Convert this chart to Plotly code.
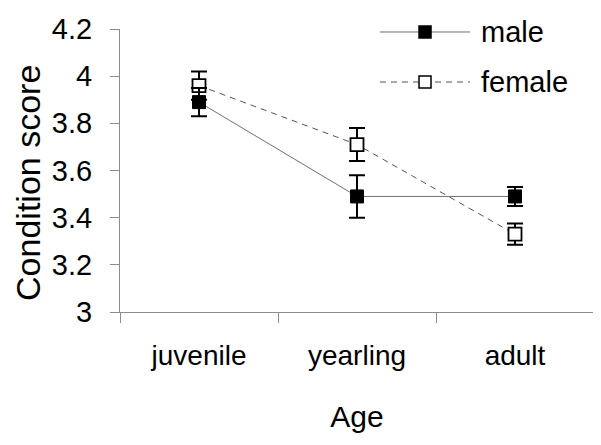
import plotly.graph_objects as go

ages = ["juvenile", "yearling", "adult"]
male_mean = [3.89, 3.49, 3.49]
male_err = [0.06, 0.09, 0.04]
female_mean = [3.96, 3.71, 3.33]
female_err = [0.06, 0.07, 0.045]
y_ticks = [3, 3.2, 3.4, 3.6, 3.8, 4, 4.2]

FONT = "Liberation Sans, Arial, sans-serif"
AXIS_COL = "#8c8c8c"

fig = go.Figure()
fig.add_trace(go.Scatter(
    x=ages, y=female_mean, mode="lines+markers", name="female",
    line=dict(color="#555555", width=1, dash="6px,5px"),
    marker=dict(symbol="square", size=13, color="white", line=dict(color="black", width=1.8)),
    error_y=dict(type="data", array=female_err, color="black", thickness=2, width=8),
    showlegend=False,
))
fig.add_trace(go.Scatter(
    x=ages, y=male_mean, mode="lines+markers", name="male",
    line=dict(color="#707070", width=1),
    marker=dict(symbol="square", size=13, color="black", line=dict(color="black", width=1)),
    error_y=dict(type="data", array=male_err, color="black", thickness=2, width=8),
    showlegend=False,
))

# custom legend (paper coordinates)
legend_items = [("male", 0.9894, "solid", "black", "#707070"),
                ("female", 0.8127, "dash", "white", "#555555")]
shapes = []
annotations = []
for name, yy, dash, fill, lc in legend_items:
    shapes.append(dict(type="line", xref="paper", yref="paper", x0=0.5485, x1=0.7384, y0=yy, y1=yy,
                       line=dict(color=lc, width=1, dash="6px,5px" if dash == "dash" else "solid")))
    shapes.append(dict(type="rect", xref="paper", yref="paper", xsizemode="pixel", ysizemode="pixel",
                       xanchor=0.6435, yanchor=yy, x0=-6, x1=6, y0=-6, y1=6,
                       fillcolor=fill, line=dict(color="black", width=1.5)))
    annotations.append(dict(text=name, xref="paper", yref="paper", x=0.7574, y=yy, xanchor="left",
                            yanchor="middle", showarrow=False, font=dict(size=29, color="black", family=FONT)))

# y-axis title as a rotated annotation (sits slightly below the plot centre in the reference)
annotations.append(dict(text="Condition score", xref="paper", yref="paper", x=0, y=0.456,
                        xanchor="center", yanchor="middle", xshift=-92, textangle=-90, showarrow=False,
                        borderpad=0, font=dict(size=34, color="black", family=FONT)))

# the page body has an 8px default margin, so the figure is 8px smaller and margins shifted
fig.update_layout(
    width=593, height=437,
    margin=dict(l=112, r=7, t=21, b=133),
    paper_bgcolor="white", plot_bgcolor="white",
    font=dict(family=FONT, color="black"),
    shapes=shapes, annotations=annotations,
    xaxis=dict(
        type="category", range=[-0.5, 2.5], tickson="boundaries", automargin=False,
        showline=True, linecolor=AXIS_COL, linewidth=1,
        ticks="outside", ticklen=10, tickcolor=AXIS_COL, tickwidth=1,
        showgrid=False, zeroline=False,
        tickfont=dict(size=28, family=FONT, color="black"),
        ticklabelstandoff=18,
        title=dict(text="Age", font=dict(size=30, family=FONT, color="black"), standoff=36),
    ),
    yaxis=dict(
        range=[3, 4.2], tickvals=y_ticks, automargin=False,
        showline=True, linecolor=AXIS_COL, linewidth=1,
        ticks="outside", ticklen=9, tickcolor=AXIS_COL, tickwidth=1,
        showgrid=False, zeroline=False,
        tickfont=dict(size=29, family=FONT, color="black"),
        ticklabelstandoff=12,
    ),
)

fig.write_html("out.html")
